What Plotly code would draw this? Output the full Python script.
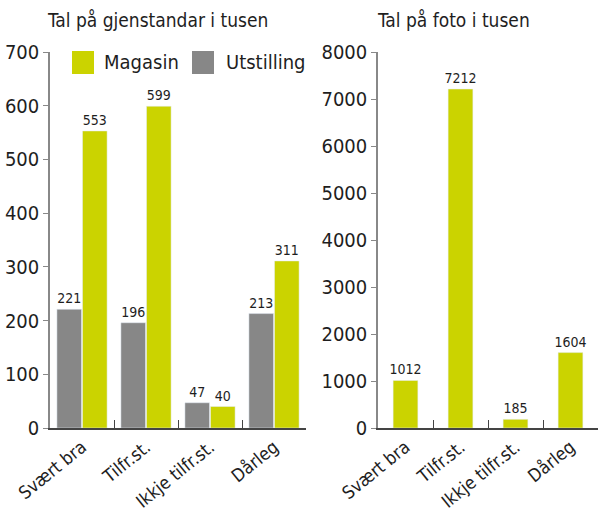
import plotly.graph_objects as go

categories = ["Svært bra", "Tilfr.st.", "Ikkje tilfr.st.", "Dårleg"]
utstilling = [221, 196, 47, 213]
magasin = [553, 599, 40, 311]
foto = [1012, 7212, 185, 1604]

GREEN = "#cbd300"
GRAY = "#878787"
FONT = "DejaVu Sans Condensed, sans-serif"
TXT = "#1e1e1e"

W, H = 599, 513

def px(x):
    return x / W

def py(y):
    return (H - y) / H

lbl = dict(size=14, color=TXT, family=FONT)
fig = go.Figure()
fig.add_trace(go.Bar(x=categories, y=utstilling, name="Utstilling", marker_color=GRAY,
                     text=utstilling, textposition="outside", cliponaxis=False, constraintext="none",
                     textfont=lbl, xaxis="x", yaxis="y", showlegend=False))
fig.add_trace(go.Bar(x=categories, y=magasin, name="Magasin", marker_color=GREEN,
                     text=magasin, textposition="outside", cliponaxis=False, constraintext="none",
                     textfont=lbl, xaxis="x", yaxis="y", showlegend=False))
fig.add_trace(go.Bar(x=categories, y=foto, name="Foto", marker_color=GREEN,
                     text=foto, textposition="outside", cliponaxis=False, constraintext="none",
                     textfont=lbl, xaxis="x2", yaxis="y2", showlegend=False, width=0.45))

common_x = dict(type="category", tickson="boundaries", ticks="inside", ticklen=8,
                tickcolor="#444", showline=True, linecolor="#444", linewidth=1.5,
                tickangle=-39, tickfont=dict(size=18, color=TXT, family=FONT),
                showgrid=False, zeroline=False, automargin=False)
common_y = dict(ticks="outside", ticklen=5, tickcolor="#888", showline=True,
                linecolor="#888", linewidth=1.5, showgrid=False, zeroline=False,
                tickfont=dict(size=20, color=TXT, family=FONT), automargin=False)

fig.update_layout(
    width=W, height=H, margin=dict(l=0, r=0, t=0, b=0),
    paper_bgcolor="white", plot_bgcolor="white",
    barmode="group", bargap=0.2, bargroupgap=0.04,
    xaxis=dict(domain=[px(50), px(306)], anchor="y", **common_x),
    yaxis=dict(domain=[py(428), py(52)], anchor="x", range=[0, 700], dtick=100, **common_y),
    xaxis2=dict(domain=[px(378), px(598)], anchor="y2", **common_x),
    yaxis2=dict(domain=[py(428), py(52)], anchor="x2", range=[0, 8000], dtick=1000, **common_y),
    font=dict(family=FONT, color=TXT),
)

fig.add_annotation(text="Tal på gjenstandar i tusen", x=px(157), y=py(20), xref="paper", yref="paper",
                   showarrow=False, font=dict(size=19, color=TXT, family=FONT), xanchor="center", yanchor="middle")
fig.add_annotation(text="Tal på foto i tusen", x=px(453), y=py(20), xref="paper", yref="paper",
                   showarrow=False, font=dict(size=19, color=TXT, family=FONT), xanchor="center", yanchor="middle")

# legend (manual)
fig.add_shape(type="rect", xref="paper", yref="paper", x0=px(72), x1=px(94), y0=py(74), y1=py(51),
              fillcolor=GREEN, line_width=0)
fig.add_annotation(text="Magasin", x=px(102), y=py(62), xref="paper", yref="paper", showarrow=False,
                   xanchor="left", yanchor="middle", font=dict(size=20, color=TXT, family=FONT))
fig.add_shape(type="rect", xref="paper", yref="paper", x0=px(192), x1=px(214), y0=py(74), y1=py(51),
              fillcolor=GRAY, line_width=0)
fig.add_annotation(text="Utstilling", x=px(224), y=py(62), xref="paper", yref="paper", showarrow=False,
                   xanchor="left", yanchor="middle", font=dict(size=20, color=TXT, family=FONT))

fig.write_html("out.html", config={"displayModeBar": False},
               post_script="document.body.style.margin='0px';")
